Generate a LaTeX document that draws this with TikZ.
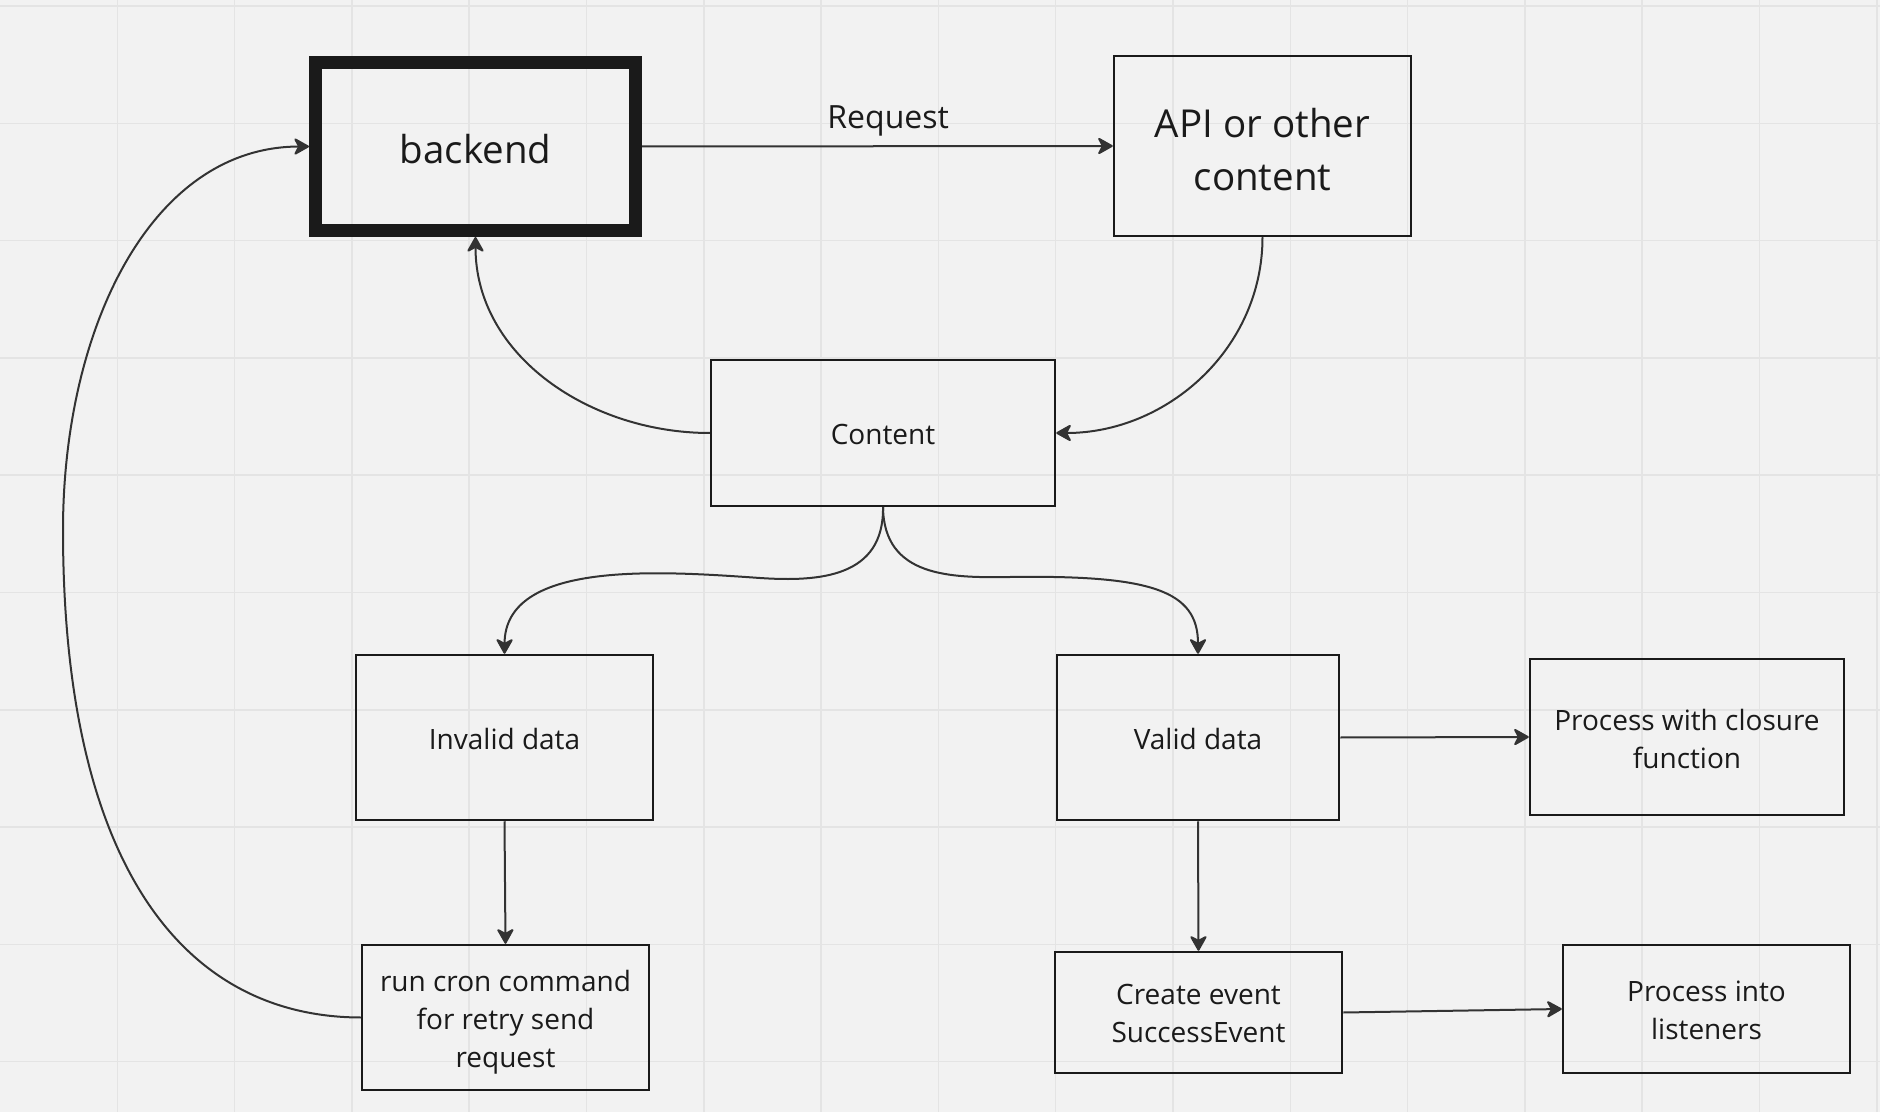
\documentclass[tikz,border=0pt]{standalone}
\usepackage{fontspec}
\setmainfont{Open Sans}
\usetikzlibrary{arrows.meta}
\definecolor{bg}{HTML}{F2F2F2}
\definecolor{gridc}{HTML}{E4E4E4}
\definecolor{ink}{HTML}{1A1A1A}
\definecolor{wire}{HTML}{333333}
\newcommand{\up}[1]{\rule{0pt}{#1}}
\begin{document}
\begin{tikzpicture}[x=0.5pt,y=-0.5pt,
  box/.style={draw=ink, line width=1.25pt, text=ink, align=center, inner sep=0pt,
    font=\fontsize{14}{19}\selectfont},
  bigbox/.style={box, font=\fontsize{19.25}{26.5}\selectfont},
  lab/.style={text=ink, font=\fontsize{16}{20}\selectfont, inner sep=0pt},
  arr/.style={draw=wire, line width=1pt, -{Stealth[length=8.5pt,width=9.5pt,inset=2.5pt,round]}}]
\fill[bg] (0,0) rectangle (1880,1112);
\useasboundingbox (0,0) rectangle (1880,1112);
\foreach \i in {1,...,16} \draw[gridc, line width=0.75pt] ({\i*117.3},0) -- ({\i*117.3},1112);
\foreach \j in {0,...,9} \draw[gridc, line width=0.75pt] (0,{6+\j*117.3}) -- (1880,{6+\j*117.3});

\node[bigbox, line width=6.5pt, minimum width=160pt, minimum height=84pt] (backend) at (475.5,146.5) {\up{17pt}backend};
\node[bigbox, minimum width=148.5pt, minimum height=90pt] (api) at (1262.5,146) {\up{18.2pt}API or other\\content};
\node[box, minimum width=172pt, minimum height=73pt] (content) at (883,433) {\up{11.2pt}Content};
\node[box, minimum width=148.5pt, minimum height=82.5pt] (invalid) at (504.5,737.5) {\up{11.8pt}Invalid data};
\node[box, minimum width=141pt, minimum height=82.5pt] (valid) at (1198,737.5) {\up{11.8pt}Valid data};
\node[box, minimum width=157pt, minimum height=78pt] (closure) at (1687,737) {\up{13pt}Process with closure\\function};
\node[box, minimum width=143.5pt, minimum height=72.5pt] (cron) at (505.5,1017.5) {\up{15.4pt}run cron command\\for retry send\\request};
\node[box, minimum width=143.5pt, minimum height=60.5pt] (create) at (1198.5,1012.5) {\up{11.2pt}Create event\\SuccessEvent};
\node[box, minimum width=143.5pt, minimum height=64pt] (listen) at (1706.5,1009) {\up{11.2pt}Process into\\listeners};

\draw[arr] (backend.east) -- node[lab, pos=0.523, yshift=12.6pt] {Request} (api.west);
\draw[arr] (api.south) to[out=-90,in=0] (content.east);
\draw[arr] (content.west) to[out=180,in=-90] (backend.south);
\draw[arr] (content.south) .. controls (884,577) and (820,582) .. (760,578)
  .. controls (660,571) and (505,560) .. (invalid.north);
\draw[arr] (content.south) .. controls (884,577) and (950,578) .. (1010,577)
  .. controls (1150,575) and (1198,590) .. (valid.north);
\draw[arr] (invalid.south) -- (cron.north);
\draw[arr] (valid.south) -- (create.north);
\draw[arr] (valid.east) -- (closure.west);
\draw[arr] (create.east) -- (listen.west);
\draw[arr] (cron.west) .. controls (180,1017) and (63,860) .. (63,530)
  .. controls (63,330) and (150,147) .. (backend.west);
\end{tikzpicture}
\end{document}
